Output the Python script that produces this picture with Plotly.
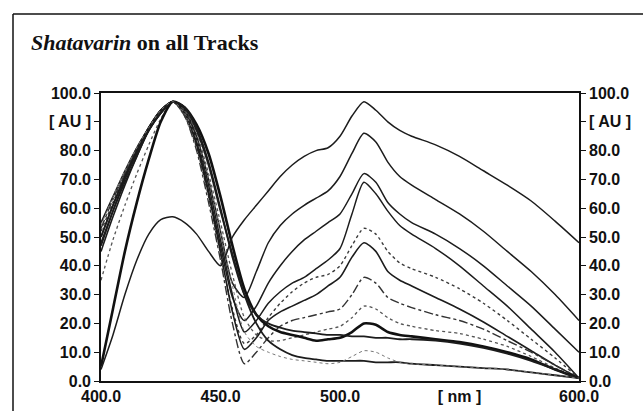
import plotly.graph_objects as go

# wavelength grid [nm]
wavelengths = [400, 405, 410, 415, 420, 425, 430, 435, 440, 445, 450, 455, 460, 465,
               470, 475, 480, 485, 490, 495, 500, 505, 510, 515, 520, 525, 530,
               540, 550, 560, 570, 580, 590, 600]

# spectra of the tracks [AU]
track_1 = [4, 16, 30, 42, 51, 56, 57, 55, 51, 45, 40, 50, 56, 61, 66, 71, 75, 78, 80, 81,
           85, 92, 97, 94, 90, 87, 85, 82, 78, 73, 68, 62.5, 55.5, 48]
track_2 = [50, 61, 71, 80, 88, 94, 97, 94, 85, 70, 52, 34, 29, 38, 48, 54, 58, 61, 63.5, 66,
           71, 79, 86, 83, 76, 71, 68, 63, 58, 52, 45, 38, 30, 21]
track_3 = [48, 59, 69, 78, 87, 93, 97, 93, 83, 66, 47, 29, 21, 26, 34, 40, 45, 49, 52, 55,
           58, 65, 72, 69, 62, 58, 55, 51, 46, 40, 33, 26, 18, 10]
track_4 = [55, 64, 73, 81, 88, 94, 97, 94, 84, 68, 49, 30, 17, 21, 27, 31, 34, 36, 39, 42,
           46, 58, 69, 65, 59, 54, 51, 46, 40, 33, 26, 18, 10, 1]
track_5 = [52, 62, 72, 80, 88, 94, 97, 92, 81, 64, 44, 25, 13, 16, 22, 27, 31, 34, 36, 37,
           40, 47, 53, 51, 45, 41, 39, 36, 32, 27, 21, 14.5, 8, 1]
track_6 = [45, 57, 68, 78, 87, 93, 97, 93, 82, 65, 45, 24, 11, 15, 21, 24, 26, 28, 30, 33,
           36, 43, 48, 45, 38, 35, 33, 29, 25, 20.5, 15.5, 10.5, 5.5, 1]
track_7 = [53, 63, 72, 81, 88, 94, 97, 92, 80, 62, 42, 20, 6, 10, 15, 19, 21, 22, 23, 24,
           25, 30, 36, 34, 29, 27, 25.5, 23, 21, 18, 14, 10, 5.5, 1]
track_8 = [35, 49, 61, 72, 82, 91, 97, 94, 86, 72, 55, 37, 22, 16, 14, 14, 15, 16, 17, 18,
           19, 22, 26, 25, 22, 20, 19, 17.5, 16.5, 14.5, 12, 8.5, 4.5, 1]
track_9 = [5, 25, 45, 62, 77, 90, 97, 95, 89, 79, 64, 47, 32, 23, 19, 17, 16, 15, 14, 14.5,
           15, 17, 20, 19.5, 17, 16, 15.5, 14.5, 13.5, 12, 10, 7.5, 4, 1]
track_10 = [50, 61, 71, 80, 88, 94, 97, 95, 88, 76, 60, 43, 30, 23, 20, 18.5, 17.5, 17, 16.5, 16,
            16, 15.5, 15.5, 15, 15, 14.5, 14.5, 14, 13, 11.5, 9.5, 7, 4, 1]
track_11 = [47, 59, 70, 79, 87, 93, 97, 95, 87, 75, 59, 44, 30, 20, 14, 11, 9, 8, 7.5, 7,
            7, 7, 7, 6.5, 6.5, 6.5, 6, 5.5, 5, 4.5, 4, 3, 2, 1]
track_12 = [54, 64, 73, 81, 88, 94, 97, 93, 84, 70, 52, 33, 17, 12, 10, 8.5, 7.5, 7, 6.5, 6,
            6.5, 8.5, 10.5, 10, 8, 6.5, 6, 5.5, 5, 4.5, 4, 3, 2, 1]

tracks = [track_1, track_2, track_3, track_4, track_5, track_6, track_7, track_8,
          track_9, track_10, track_11, track_12]

# axis ticks
y_tick_values = [0, 10, 20, 30, 40, 50, 60, 70, 80, 90, 100]
y_tick_labels = ["0.0", "10.0", "20.0", "30.0", "40.0", "50.0", "60.0", "70.0", "80.0", "[ AU ]", "100.0"]
x_tick_values = [400, 450, 500, 550, 600]
x_tick_labels = ["400.0", "450.0", "500.0", "[ nm ]", "600.0"]

title_text = "<b><i>Shatavarin</i> on all Tracks</b>"

# line styles per track
styles = [
    dict(color="#1c1c1c", width=1.5, dash="solid"),
    dict(color="#1c1c1c", width=1.5, dash="solid"),
    dict(color="#1c1c1c", width=1.5, dash="solid"),
    dict(color="#1c1c1c", width=1.5, dash="solid"),
    dict(color="#3a3a3a", width=1.4, dash="dot"),
    dict(color="#1c1c1c", width=1.6, dash="solid"),
    dict(color="#333333", width=1.4, dash="dashdot"),
    dict(color="#555555", width=1.3, dash="dot"),
    dict(color="#111111", width=2.6, dash="solid"),
    dict(color="#1c1c1c", width=1.8, dash="solid"),
    dict(color="#1c1c1c", width=1.8, dash="solid"),
    dict(color="#777777", width=1.0, dash="dot"),
]

fig = go.Figure()
for i, (ys, st) in enumerate(zip(tracks, styles)):
    fig.add_trace(go.Scatter(
        x=wavelengths, y=ys, mode="lines",
        line=dict(color=st["color"], width=st["width"], dash=st["dash"],
                  shape="spline", smoothing=0.7),
        yaxis="y2" if i == 0 else "y",
        showlegend=False, hoverinfo="skip"))

W, H = 643, 411
L, R, T, B = 101, 64, 93, 30
pw, ph = W - L - R, H - T - B

def px_to_paper_x(px):
    return (px - L) / pw

def px_to_paper_y(py):
    return (H - B - py) / ph

tick_font = dict(family="Liberation Sans, Arial, sans-serif", size=16, color="#111", weight="bold")

fig.update_layout(
    width=W, height=H,
    margin=dict(l=L, r=R, t=T, b=B),
    paper_bgcolor="white", plot_bgcolor="white",
    xaxis=dict(range=[400, 600], tickvals=x_tick_values, ticktext=x_tick_labels,
               showgrid=False, zeroline=False, showline=True, linecolor="#111", linewidth=1.6,
               mirror=True, ticks="", tickfont=tick_font, automargin=False),
    yaxis=dict(range=[0, 100], tickvals=y_tick_values, ticktext=y_tick_labels,
               showgrid=False, zeroline=False, showline=True, linecolor="#111", linewidth=1.6,
               ticks="outside", ticklen=5, tickcolor="#111", tickfont=tick_font, automargin=False),
    yaxis2=dict(range=[0, 100], tickvals=y_tick_values, ticktext=y_tick_labels,
                overlaying="y", side="right",
                showgrid=False, zeroline=False, showline=True, linecolor="#111", linewidth=1.6,
                ticks="outside", ticklen=5, tickcolor="#111", tickfont=tick_font, automargin=False),
    annotations=[dict(
        text=title_text, xref="paper", yref="paper",
        x=px_to_paper_x(29), y=px_to_paper_y(43), xanchor="left", yanchor="middle",
        showarrow=False,
        font=dict(family="Liberation Serif, Times New Roman, serif", size=22, color="#111"))],
    shapes=[
        dict(type="line", xref="paper", yref="paper",
             x0=px_to_paper_x(13), x1=px_to_paper_x(643),
             y0=px_to_paper_y(14), y1=px_to_paper_y(14),
             line=dict(color="#111", width=1.5)),
        dict(type="line", xref="paper", yref="paper",
             x0=px_to_paper_x(13), x1=px_to_paper_x(13),
             y0=px_to_paper_y(14), y1=px_to_paper_y(411),
             line=dict(color="#111", width=1.5)),
    ],
)

fig.write_html(
    "out.html",
    config={"displayModeBar": False},
    post_script="document.body.style.margin='0';document.body.style.overflow='hidden';",
)
